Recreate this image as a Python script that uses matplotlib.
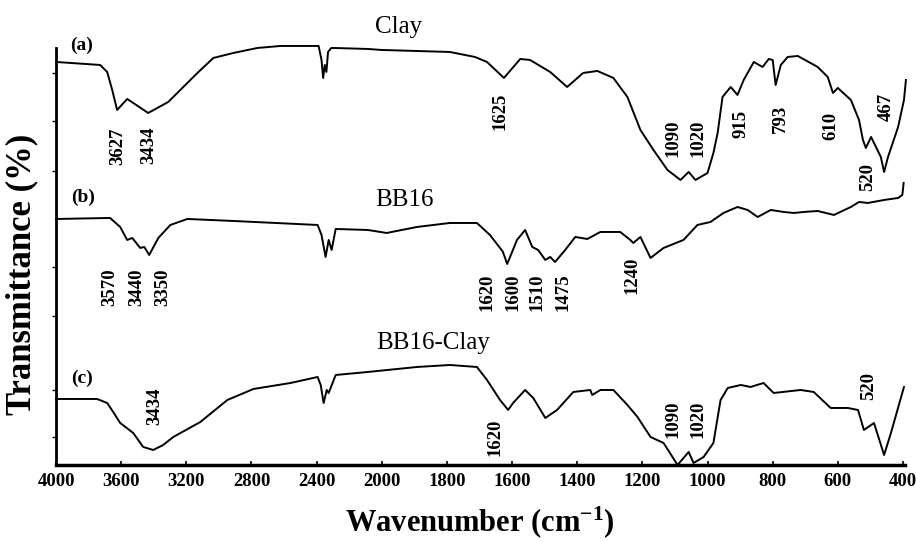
import numpy as np
import matplotlib
matplotlib.use("Agg")
import matplotlib.pyplot as plt
from matplotlib.ticker import FixedLocator, NullLocator

plt.rcParams['font.family'] = ['Liberation Serif', 'DejaVu Serif']
plt.rcParams['mathtext.default'] = 'regular'

# ---- spectra (transmittance, arbitrary units) ----
wn_clay = [4000, 3729, 3686, 3655, 3625, 3563, 3434, 3311, 3237, 3132, 3034, 2911,
           2763, 2622, 2388, 2370, 2360, 2350, 2340, 2330, 2310, 2295, 2086, 2000,
           1791, 1714, 1677, 1625, 1575, 1545, 1483, 1431, 1382, 1338, 1289, 1246,
           1206, 1166, 1123, 1083, 1058, 1037, 1000, 982, 969, 954, 929, 908, 889,
           858, 831, 812, 800, 791, 775, 754, 723, 662, 631, 615, 600, 560, 535,
           523, 514, 498, 483, 468, 458, 446, 415, 397, 391]
t_clay = [123, 120, 113, 95, 75, 86, 72, 83, 95, 112, 127, 132,
          137, 139, 139, 125, 107, 120, 113, 133, 137, 137, 136, 135,
          133, 128, 123, 107, 126, 125, 113, 98, 112, 114, 107, 88,
          55, 35, 15, 5, 13, 5, 12, 32, 52, 88, 98, 90, 105,
          123, 118, 126, 125, 100, 120, 128, 129, 118, 108, 92, 97, 85, 65,
          45, 37, 48, 38, 28, 13, 28, 58, 85, 105]

wn_bb16 = [4000, 3668, 3606, 3563, 3532, 3483, 3458, 3428, 3372, 3298, 3194, 2911,
           2394, 2370, 2345, 2326, 2308, 2283, 2086, 1985, 1892, 1791, 1708, 1668,
           1637, 1628, 1615, 1585, 1560, 1538, 1520, 1498, 1483, 1468, 1437, 1406,
           1369, 1329, 1268, 1237, 1228, 1206, 1175, 1135, 1074, 1031, 991, 951,
           908, 877, 846, 806, 766, 735, 705, 662, 612, 560, 535, 508, 458, 415,
           402, 398]
t_bb16 = [96, 97, 88, 75, 77, 67, 68, 60, 77, 90, 96, 94,
          90, 80, 58, 75, 65, 86, 85, 82, 88, 92, 92, 80,
          67, 63, 51, 75, 85, 68, 65, 55, 58, 53, 65, 78,
          76, 83, 83, 75, 72, 78, 57, 67, 75, 90, 93, 102,
          108, 105, 98, 105, 103, 102, 103, 104, 100, 108, 113, 112, 115, 117,
          120, 132]

wn_mix = [4000, 3748, 3686, 3649, 3606, 3526, 3465, 3403, 3342, 3280, 3114, 2948,
          2788, 2560, 2394, 2375, 2357, 2338, 2326, 2283, 2086, 1892, 1791, 1708,
          1677, 1637, 1612, 1597, 1560, 1535, 1498, 1462, 1412, 1360, 1354, 1329,
          1289, 1246, 1215, 1175, 1135, 1092, 1058, 1043, 1012, 982, 960, 938,
          898, 868, 828, 797, 714, 674, 622, 569, 538, 520, 489, 458, 437, 397]
t_mix = [66, 66, 62, 53, 42, 32, 18, 15, 20, 28, 43, 65,
         76, 82, 88, 80, 62, 75, 72, 90, 93, 98, 100, 98,
         85, 65, 55, 62, 75, 67, 47, 55, 73, 75, 70, 75,
         75, 60, 48, 28, 22, 0, 13, 2, 8, 22, 65, 77,
         80, 78, 82, 72, 75, 73, 57, 57, 55, 35, 42, 10, 32, 78]

names = ["Clay", "BB16", "BB16-Clay"]
panels = ["(a)", "(b)", "(c)"]
offsets = [280, 150, 0]

# peak labels: (text, wavenumber of label, height of label)
peaks = [("3627", 3618, 319), ("3434", 3428, 320), ("1625", 1637, 354),
         ("1090", 1105, 327), ("1020", 1028, 327), ("915", 898, 341),
         ("793", 775, 346), ("610", 622, 339), ("520", 508, 288), ("467", 452, 358),
         ("3570", 3668, 178), ("3440", 3502, 178), ("3350", 3342, 178),
         ("1620", 1677, 173), ("1600", 1597, 173), ("1510", 1523, 173),
         ("1475", 1443, 173), ("1240", 1231, 190),
         ("3434", 3391, 59), ("1620", 1652, 28), ("1090", 1105, 46),
         ("1020", 1028, 46), ("520", 505, 79)]

xticks = [4000, 3600, 3200, 2800, 2400, 2000, 1800, 1600, 1400, 1200, 1000, 800, 600, 400]


# x axis is compressed by 2 above 2000 cm-1
def fwd(x):
    x = np.asarray(x, dtype=float)
    return np.where(x > 2000, 2000 + (x - 2000) / 2.0, x)


def inv(u):
    u = np.asarray(u, dtype=float)
    return np.where(u > 2000, 2000 + (u - 2000) * 2.0, u)


fig = plt.figure(figsize=(9.17, 5.42), dpi=100)
ax = fig.add_axes([0.0611, 0.1421, 0.9254, 0.7694])
ax.set_xscale('function', functions=(fwd, inv))

series = [(wn_clay, t_clay), (wn_bb16, t_bb16), (wn_mix, t_mix)]
for (wn, t), off in zip(series, offsets):
    ax.plot(wn, np.array(t) + off, color='black', lw=1.4, clip_on=False)

ax.set_xlim(4000, 395)
ax.set_ylim(0, 417)

ax.xaxis.set_major_locator(FixedLocator(xticks))
ax.xaxis.set_minor_locator(NullLocator())
ax.set_xticklabels([str(v) for v in xticks], fontsize=13.5, fontweight='bold')
ax.tick_params(axis='x', direction='in', length=3, width=1.2, pad=6)
ax.yaxis.set_major_locator(FixedLocator([28, 75, 149, 198, 294, 344, 392]))
ax.yaxis.set_minor_locator(NullLocator())
ax.tick_params(axis='y', direction='out', length=3, width=1, labelleft=False)

for s in ['top', 'right']:
    ax.spines[s].set_visible(False)
ax.spines['left'].set_linewidth(2)
ax.spines['bottom'].set_linewidth(2.5)

# trace names and panel letters
ax.text(1948, 438, names[0], fontsize=18, ha='center', va='center')
ax.text(1929, 265, names[1], fontsize=18, ha='center', va='center')
ax.text(1843, 122, names[2], fontsize=18, ha='center', va='center')
ax.text(3846, 420, panels[0], fontsize=14, fontweight='bold', ha='center', va='center')
ax.text(3834, 268, panels[1], fontsize=14, fontweight='bold', ha='center', va='center')
ax.text(3840, 87, panels[2], fontsize=14, fontweight='bold', ha='center', va='center')

for txt, x, y in peaks:
    ax.text(x, y, txt, rotation=90, fontsize=13.5, fontweight='bold',
            ha='center', va='center')

fig.text(0.024, 0.493, "Transmittance (%)", rotation=90, fontsize=25,
         fontweight='bold', ha='center', va='center')
fig.text(0.523, 0.037, "Wavenumber (cm$^{-1}$)", fontsize=22,
         fontweight='bold', ha='center', va='center')

fig.savefig("out.png", dpi=100)
